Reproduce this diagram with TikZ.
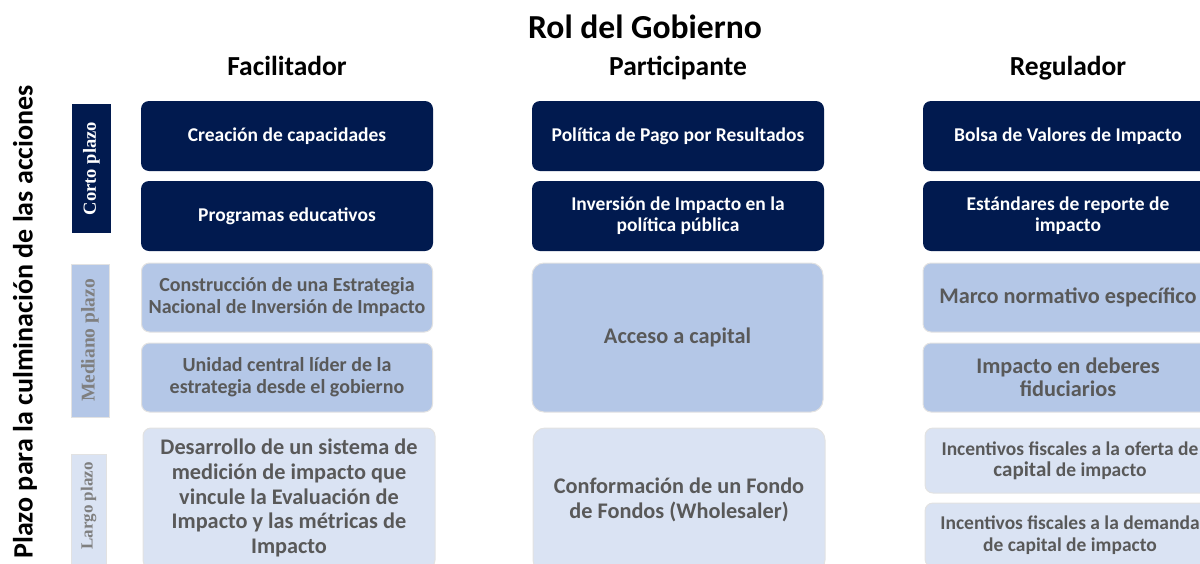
\documentclass[tikz,border=0pt]{standalone}
\usepackage{fontspec}
\setmainfont{Carlito}
\newfontfamily\serifb{Liberation Serif}
\definecolor{navy}{HTML}{011A4F}
\definecolor{midblue}{HTML}{B4C7E7}
\definecolor{lightblue}{HTML}{DAE3F3}
\definecolor{txtgray}{HTML}{595959}
\definecolor{lblgray}{HTML}{7F7F7F}
\definecolor{bordergray}{HTML}{E2E2E2}
\tikzset{
  base/.style={rounded corners=8pt, align=center, inner sep=0pt, font=\bfseries\fontsize{19.5}{21}\selectfont},
  darkbox/.style={base, fill=navy, text=white},
  midbox/.style={base, fill=midblue, draw=bordergray, line width=1pt, text=txtgray},
  lightbox/.style={base, fill=lightblue, draw=bordergray, line width=1pt, text=txtgray},
  bigtxt/.style={font=\bfseries\fontsize{22.3}{24.7}\selectfont},
  lbl/.style={rotate=90, font=\serifb\bfseries\fontsize{18.5}{20}\selectfont},
  hdr/.style={font=\bfseries\fontsize{27.5}{30}\selectfont, text=black, anchor=base},
}
\begin{document}
\begin{tikzpicture}[x=1pt,y=-1pt]
\useasboundingbox (0,0) rectangle (1200,563);
\begin{scope}
\clip (0,0) rectangle (1200,563);
% titles
\node[font=\bfseries\fontsize{33.6}{36}\selectfont] (title) at (645,27) {Rol del Gobierno};
\node[hdr] (hf) at (287,75) {Facilitador};
\node[hdr] (hp) at (678,75) {Participante};
\node[hdr] (hr) at (1068,75) {Regulador};
\node[font=\bfseries\fontsize{28}{30}\selectfont, rotate=90] (plazo) at (25,322) {Plazo para la culminación de las acciones};
% left labels
\node[fill=navy, minimum width=39pt, minimum height=129pt, inner sep=0pt] (corto) at (91.5,168.5) {};
\node[lbl, text=white] (cortot) at (corto.center) {Corto plazo};
\node[fill=midblue, draw=bordergray, line width=1pt, minimum width=38pt, minimum height=153pt, inner sep=0pt] (mediano) at (90,340.5) {};
\node[lbl, text=lblgray, font=\serifb\bfseries\fontsize{19.5}{20}\selectfont] (medianot) at (mediano.center) {Mediano plazo};
\node[fill=lightblue, draw=bordergray, line width=1pt, minimum width=35pt, minimum height=125pt, inner sep=0pt] (largo) at (88.5,517) {};
\node[lbl, text=lblgray, font=\serifb\bfseries\fontsize{17}{20}\selectfont] (largot) at (88.5,506) {Largo plazo};
% Facilitador
\node[darkbox, minimum width=292pt, minimum height=70pt] (f1) at (287,136) {Creación de capacidades};
\node[darkbox, minimum width=292pt, minimum height=70pt] (f2) at (287,216) {Programas educativos};
\node[midbox, minimum width=291pt, minimum height=69pt, font=\bfseries\fontsize{20}{22}\selectfont] (f3) at (287,297.5) {Construcción de una Estrategia\\Nacional de Inversión de Impacto};
\node[midbox, minimum width=291pt, minimum height=69pt, font=\bfseries\fontsize{20}{22}\selectfont] (f4) at (287,377.5) {Unidad central líder de la\\estrategia desde el gobierno};
\node[lightbox, bigtxt, minimum width=292pt, minimum height=140pt] (f5) at (289,498) {Desarrollo de un sistema de\\medición de impacto que\\vincule la Evaluación de\\Impacto y las métricas de\\Impacto};
% Participante
\node[darkbox, minimum width=292pt, minimum height=70pt] (p1) at (678,136) {Política de Pago por Resultados};
\node[darkbox, minimum width=292pt, minimum height=70pt] (p2) at (678,216) {Inversión de Impacto en la\\política pública};
\node[midbox, bigtxt, minimum width=291pt, minimum height=149pt, rounded corners=12pt] (p3) at (677.5,337.5) {Acceso a capital};
\node[lightbox, bigtxt, minimum width=292pt, minimum height=144pt, rounded corners=12pt] (p4) at (679,500) {Conformación de un Fondo\\de Fondos (Wholesaler)};
% Regulador
\node[darkbox, minimum width=290pt, minimum height=70pt] (r1) at (1068,136) {Bolsa de Valores de Impacto};
\node[darkbox, minimum width=290pt, minimum height=70pt] (r2) at (1068,216) {Estándares de reporte de\\impacto};
\node[midbox, bigtxt, minimum width=290pt, minimum height=69pt] (r3) at (1068,297.5) {Marco normativo específico};
\node[midbox, bigtxt, minimum width=290pt, minimum height=69pt, font=\bfseries\fontsize{22.3}{23}\selectfont] (r4) at (1068,377.5) {Impacto en deberes\\fiduciarios};
\node[lightbox, minimum width=290pt, minimum height=65pt] (r5) at (1070,460.5) {Incentivos fiscales a la oferta de\\{\fontsize{21}{21}\selectfont capital} de impacto};
\node[lightbox, minimum width=290pt, minimum height=64pt, font=\bfseries\fontsize{19.5}{22}\selectfont] (r6) at (1070,535) {Incentivos fiscales a la demanda\\de capital de impacto};
\end{scope}
\end{tikzpicture}
\end{document}
